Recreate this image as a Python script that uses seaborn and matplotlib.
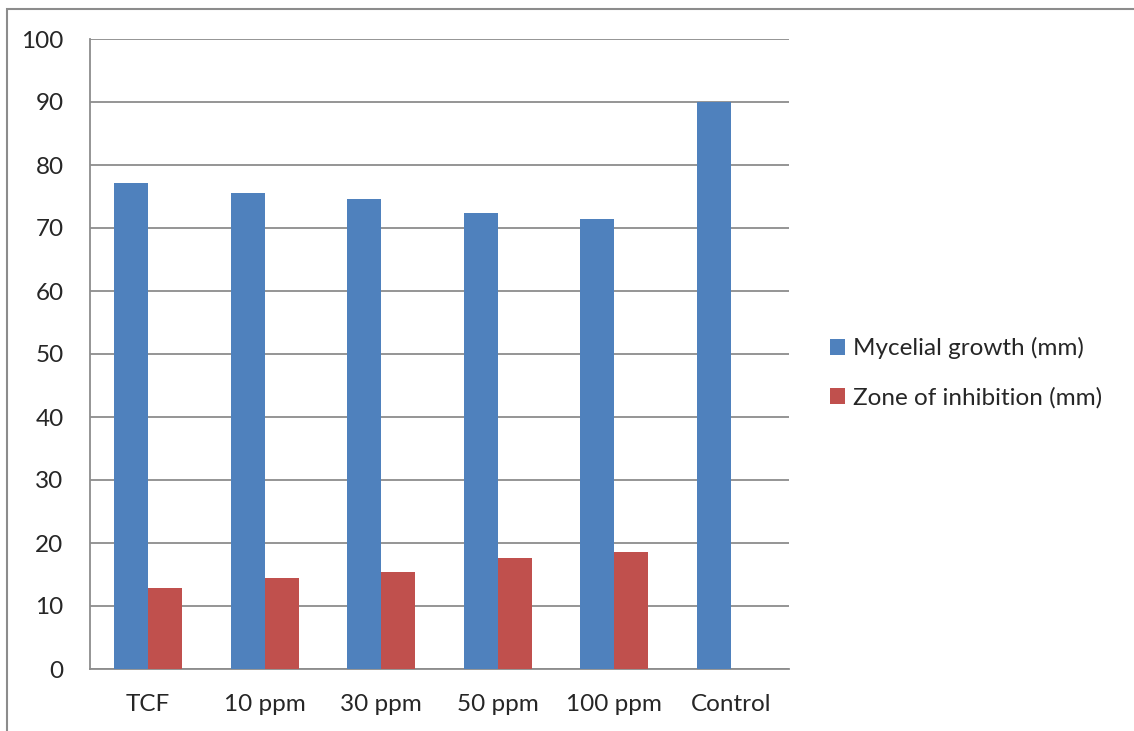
import pandas as pd
import numpy as np
import seaborn as sns
import matplotlib.pyplot as plt
from matplotlib.patches import Rectangle

# datos
categorias = ['TCF', '10 ppm', '30 ppm', '50 ppm', '100 ppm', 'Control']
micelio = [77.1, 75.6, 74.6, 72.4, 71.4, 90.0]
inhibicion = [12.9, 14.4, 15.4, 17.6, 18.6, 0.0]
series = ['Mycelial growth (mm)', 'Zone of inhibition (mm)']
colores = ['#4F81BD', '#C0504D']
yticks = [0, 10, 20, 30, 40, 50, 60, 70, 80, 90, 100]

datos = pd.DataFrame({'cat': categorias, series[0]: micelio, series[1]: inhibicion})
datos = pd.melt(datos, id_vars=['cat'], value_vars=series, var_name='serie', value_name='valor')

sns.set_style('white')
plt.rcParams['font.family'] = ['Lato', 'DejaVu Sans']
fs = 17.5

fig = plt.figure(figsize=(11.34, 7.31), dpi=100)
ax = fig.add_axes([90/1134, 1-669/731, (789-90)/1134, (669-39)/731])

sns.barplot(data=datos, x='cat', y='valor', hue='serie', palette=colores,
            width=0.58, saturation=1, linewidth=0, ax=ax, zorder=3)

ax.set_ylim(0, 100)
ax.set_xlim(-0.5, 5.5)
ax.set_yticks(yticks)
ax.yaxis.grid(True, color='#8c8c8c', linewidth=1.3, zorder=0)
ax.set_axisbelow(True)
ax.set_xlabel('')
ax.set_ylabel('')

# ticks del eje x en los limites de categoria
ax.set_xticks(np.arange(len(categorias)))
ax.set_xticklabels(categorias)
ax.set_xticks(np.arange(-0.5, len(categorias)), minor=True)
ax.tick_params(axis='x', which='major', length=0, pad=18, labelsize=fs)
ax.tick_params(axis='x', which='minor', length=7, color='#8c8c8c', width=1.3)
ax.tick_params(axis='y', length=7, color='#8c8c8c', width=1.3, pad=12, labelsize=fs)

for s in ['top', 'right']:
    ax.spines[s].set_visible(False)
for s in ['left', 'bottom']:
    ax.spines[s].set_color('#8c8c8c')
    ax.spines[s].set_linewidth(1.3)

ax.legend(loc='center left', bbox_to_anchor=(818/1134, 1-373/731),
          bbox_transform=fig.transFigure, frameon=False,
          fontsize=fs, handlelength=0.62, handleheight=0.62, handletextpad=0.3,
          labelspacing=1.15, borderpad=0)

# marco exterior del grafico
fig.patches.append(Rectangle((7/1134, -0.1), 1.2, 1 - 9/731 + 0.1, transform=fig.transFigure,
                             fill=False, edgecolor='#8c8c8c', linewidth=1.5))

plt.savefig('out.png', dpi=100)
